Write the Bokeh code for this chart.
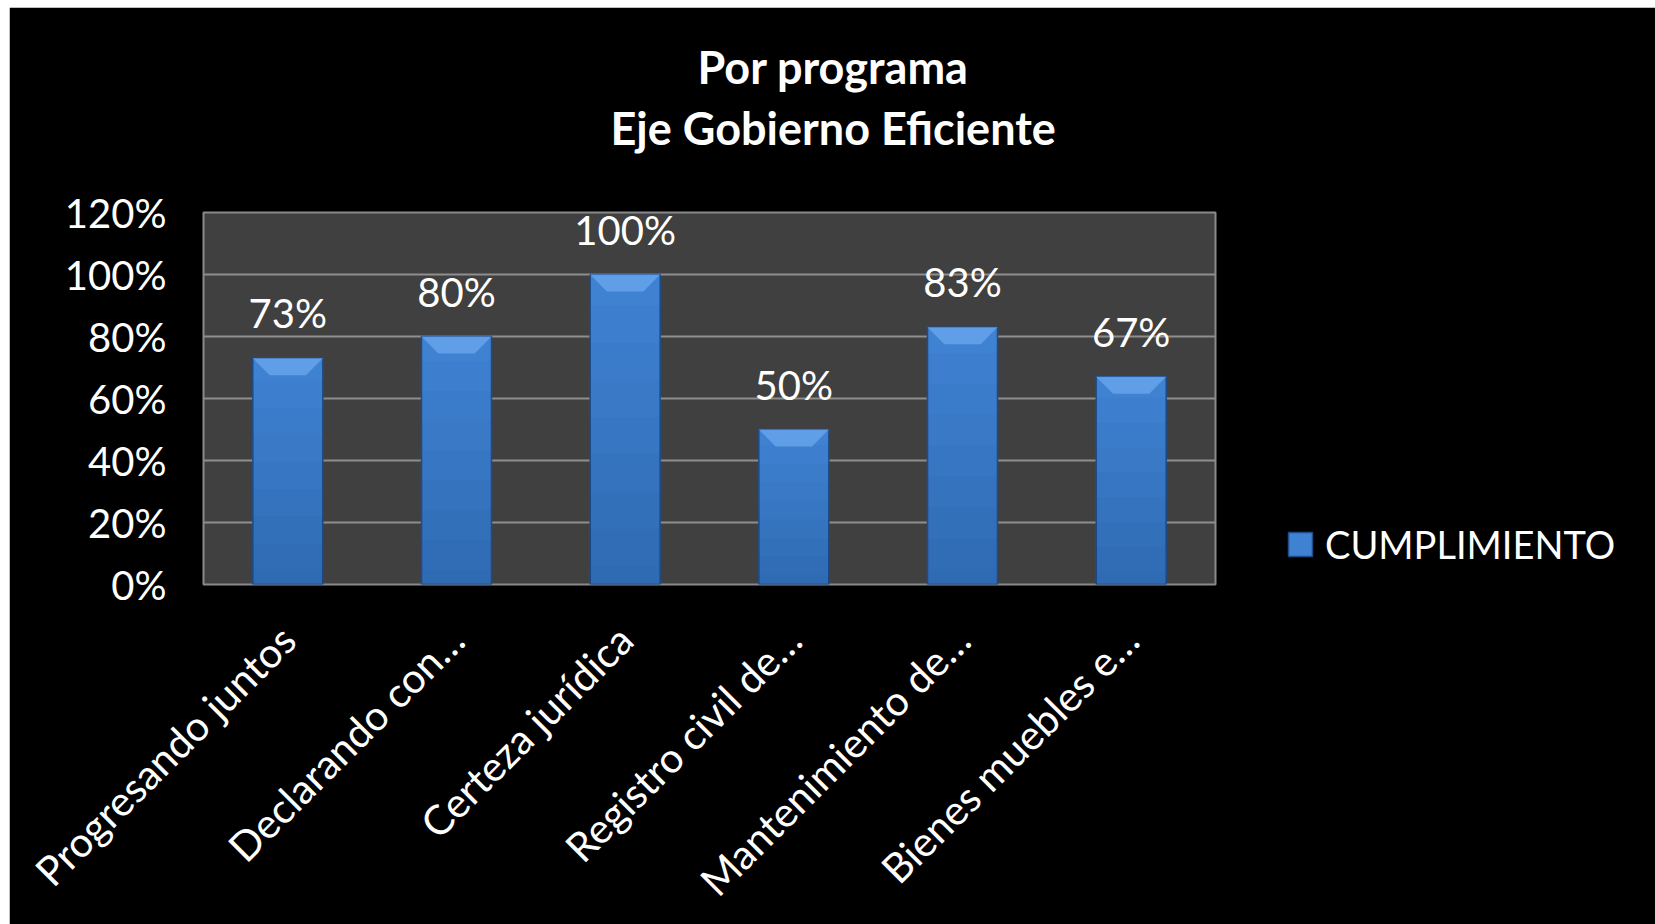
from bokeh.plotting import figure
from bokeh.models import (ColumnDataSource, FixedTicker, Title, Legend, LegendItem,
                          Range1d, FactorRange)
from bokeh.core.properties import value
from bokeh.embed import file_html
from bokeh.resources import INLINE

categories = ["Progresando juntos", "Declarando con…", "Certeza jurídica",
              "Registro civil de…", "Mantenimiento de…", "Bienes muebles e…"]
cumplimiento = [0.73, 0.80, 1.00, 0.50, 0.83, 0.67]
value_labels = ["73%", "80%", "100%", "50%", "83%", "67%"]
y_ticks = [0, 0.2, 0.4, 0.6, 0.8, 1.0, 1.2]
y_tick_labels = ["0%", "20%", "40%", "60%", "80%", "100%", "120%"]
title_lines = ["Por programa", "Eje Gobierno Eficiente"]
series_name = "CUMPLIMIENTO"

FONT = "Lato"
TXT = "#ffffff"
BAR_W = 0.415

p = figure(x_range=FactorRange(*categories), y_range=Range1d(0, 1.2),
           frame_width=1012, frame_height=372,
           output_backend="svg", toolbar_location=None, title=None,
           min_border_left=194, min_border_right=438, min_border_top=205,
           min_border_bottom=340)
p.margin = (7, 0, 0, 9)
p.background_fill_color = "#404040"
p.border_fill_color = "#000000"
p.outline_line_color = "#8a8a8a"
p.outline_line_width = 2

# grid
p.xgrid.grid_line_color = None
p.ygrid.grid_line_color = "#8e8e8e"
p.ygrid.grid_line_width = 2
p.yaxis.ticker = FixedTicker(ticks=y_ticks)
p.yaxis.major_label_overrides = {t: l for t, l in zip(y_ticks, y_tick_labels)}

for ax in (p.xaxis, p.yaxis):
    ax.axis_line_color = None
    ax.major_tick_line_color = None
    ax.minor_tick_line_color = None
    ax.major_label_text_color = TXT
    ax.major_label_text_font = FONT
    ax.major_label_text_font_size = "40px"
p.xaxis.major_label_text_font_size = "41px"
p.yaxis.major_label_standoff = 31
p.xaxis.major_label_orientation = 0.785398
p.xaxis.major_label_standoff = 42

src = ColumnDataSource(dict(cat=categories, val=cumplimiento, lab=value_labels))
bars = p.vbar(x="cat", top="val", width=BAR_W, source=src,
              fill_color="#3f82d2", line_color="#1f4c88", line_width=1.5)
# soft darkening toward the bottom of each bar (stacked translucent layers)
for frac in [0.9, 0.78, 0.66, 0.54, 0.42, 0.30, 0.18, 0.06]:
    p.vbar(x=categories, top=[v * frac for v in cumplimiento], width=BAR_W - 0.008,
           fill_color="#0a2a5a", fill_alpha=0.028, line_color=None)

# top bevel (trapezoid) computed from values
xs, ys = [], []
for i, v in enumerate(cumplimiento):
    c = i + 0.5
    xs.append([c - BAR_W / 2, c + BAR_W / 2, c + BAR_W / 2 - 0.1, c - BAR_W / 2 + 0.1])
    ys.append([v, v, v - 0.055, v - 0.055])
p.patches(xs, ys, fill_color="#64a2ea", line_color=None, fill_alpha=0.9)

p.text(x="cat", y="val", text="lab", source=src, text_align="center",
       text_baseline="alphabetic", y_offset=-45, text_font=value(FONT),
       text_font_size="40px", text_color=TXT)

# titles: first added sits closest to the frame
p.add_layout(Title(text=" ", text_font_size="1px", standoff=55,
                   text_color="#000000"), "above")
p.add_layout(Title(text=title_lines[1], align="left", offset=407, standoff=0,
                   text_font=FONT, text_font_size="45px", text_font_style="bold",
                   text_color=TXT), "above")
p.add_layout(Title(text=title_lines[0], align="left", offset=494, standoff=10,
                   text_font=FONT, text_font_size="45px", text_font_style="bold",
                   text_color=TXT), "above")

legend = Legend(items=[LegendItem(label=series_name, renderers=[bars])],
                location=(70, 17), glyph_width=30, glyph_height=30,
                label_standoff=10, label_text_font=FONT, label_text_font_size="38px",
                label_text_color=TXT, background_fill_alpha=0, border_line_color=None,
                padding=0, margin=0)
p.add_layout(legend, "right")

open("out.html", "w").write(file_html(p, INLINE))
